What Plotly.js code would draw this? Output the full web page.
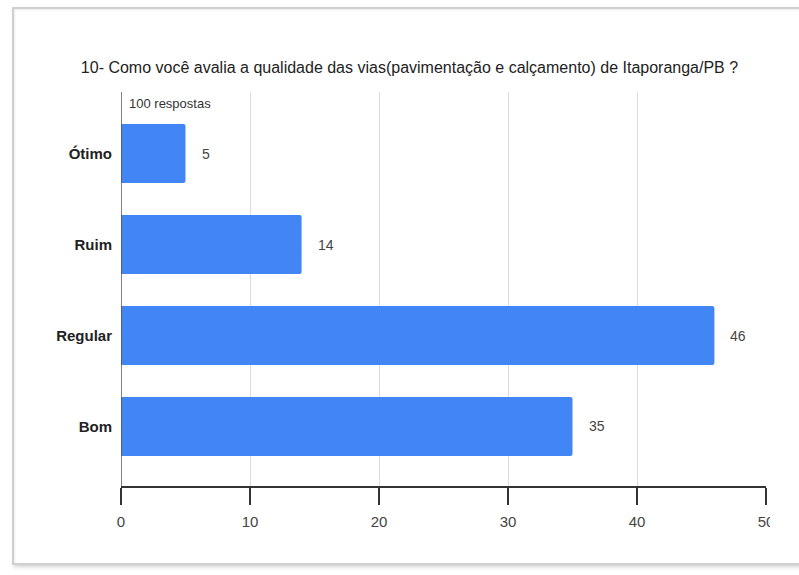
<!DOCTYPE html>
<html>
<head>
<meta charset="utf-8">
<script src="https://cdn.plot.ly/plotly-3.0.1.min.js"></script>
<style>
  html, body { margin: 0; padding: 0; background: #ffffff; }
  #wrap { position: relative; width: 799px; height: 575px; overflow: hidden; }
  #chart { position: absolute; left: 0; top: 0; width: 799px; height: 575px; }
  #frame { position: absolute; left: 12px; top: 7px; width: 800px; height: 558px;
           border: 2px solid #d0d0d0; box-shadow: 2px 2px 4px rgba(0,0,0,0.18), inset 1px 1px 2px rgba(0,0,0,0.08);
           pointer-events: none; box-sizing: border-box; }
  #clip { position: absolute; left: 770px; top: 505px; width: 29px; height: 40px; background: #ffffff; }
</style>
</head>
<body>
<div id="wrap">
  <div id="chart"></div>
  <div id="clip"></div>
  <div id="frame"></div>
</div>
<script>
// Data
const categories = ["Ótimo", "Ruim", "Regular", "Bom"];
const counts = [5, 14, 46, 35];
const xTickValues = [0, 10, 20, 30, 40, 50];
const titleText = "10- Como você avalia a qualidade das vias(pavimentação e calçamento) de Itaporanga/PB ?";
const subtitleText = "100 respostas";

const FONT = "'Liberation Sans', Arial, sans-serif";

const trace = {
  type: "bar",
  orientation: "h",
  x: counts,
  y: categories,
  width: 0.65,
  marker: { color: "#4285F4", cornerradius: 2 },
  hoverinfo: "none"
};

const valueLabels = counts.map((v, i) => ({
  x: v, y: categories[i], xref: "x", yref: "y",
  text: String(v), showarrow: false,
  xanchor: "left", yanchor: "middle", xshift: 14,
  font: { family: FONT, size: 14, color: "#444444" }
}));

const layout = {
  width: 799, height: 575,
  margin: { l: 121, r: 33, t: 92, b: 89 },
  paper_bgcolor: "rgba(0,0,0,0)",
  plot_bgcolor: "#ffffff",
  showlegend: false,
  title: {
    text: titleText,
    xref: "container", yref: "container",
    x: 0.5125, y: 0.883, xanchor: "center", yanchor: "middle",
    font: { family: FONT, size: 16, color: "#222222" }
  },
  xaxis: {
    range: [0, 50],
    tickvals: xTickValues,
    ticktext: xTickValues.map(String),
    showgrid: true, gridcolor: "#dddddd", gridwidth: 1,
    zeroline: false,
    showline: true, linecolor: "#333333", linewidth: 1.5,
    ticks: "outside", ticklen: 17, tickcolor: "#333333", tickwidth: 1.5,
    ticklabelstandoff: 4,
    tickfont: { family: FONT, size: 15, color: "#444444" },
    fixedrange: true
  },
  yaxis: {
    type: "category",
    categoryorder: "array", categoryarray: categories,
    range: [3.654, -0.676],
    showgrid: false, zeroline: false,
    showline: false, ticks: "",
    ticklabelstandoff: 8,
    tickfont: { family: FONT, size: 15, color: "#222222", weight: "bold" },
    fixedrange: true
  },
  shapes: [
    { type: "line", xref: "x", yref: "paper", x0: 0, x1: 0, y0: 0, y1: 1,
      line: { color: "#555555", width: 1.5 } }
  ],
  annotations: [
    { xref: "paper", yref: "paper", x: 0.01, y: 0.972, xanchor: "left", yanchor: "middle",
      text: subtitleText, showarrow: false,
      font: { family: FONT, size: 13, color: "#333333" } }
  ].concat(valueLabels)
};

Plotly.newPlot("chart", [trace], layout, { displayModeBar: false, staticPlot: true });
</script>
</body>
</html>
